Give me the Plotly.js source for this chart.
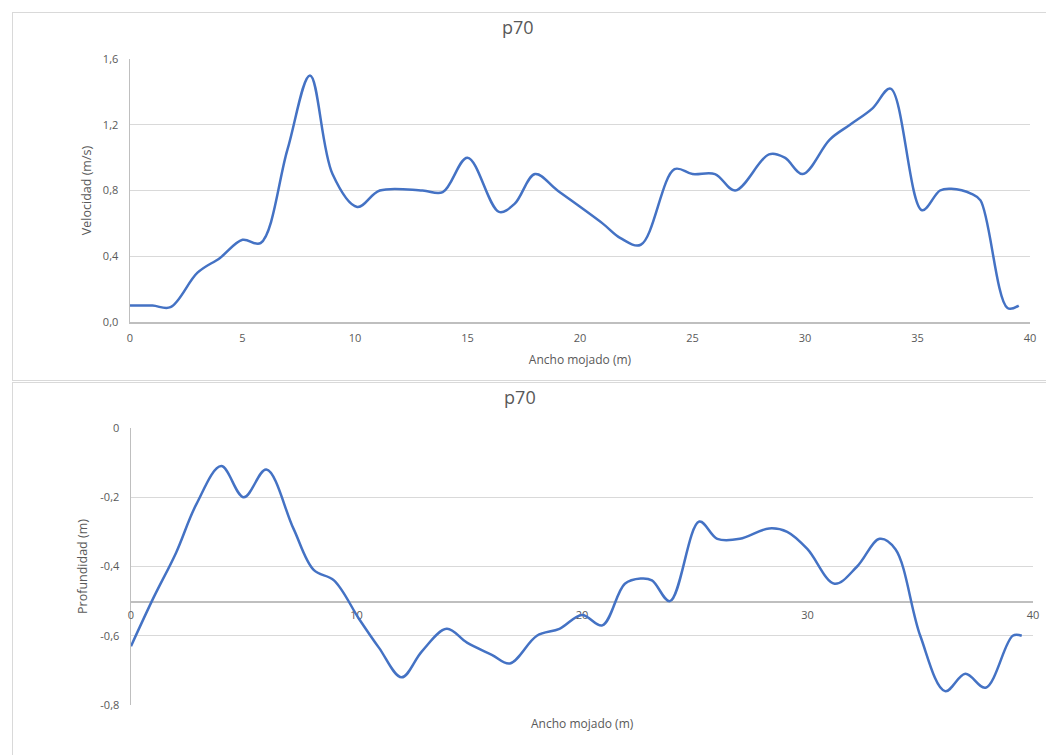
<!DOCTYPE html>
<html>
<head>
<meta charset="utf-8">
<script src="https://cdn.plot.ly/plotly-3.0.1.min.js"></script>
<style>
  html, body { margin: 0; padding: 0; background: #ffffff; overflow: hidden; width: 1046px; height: 755px; }
  .box { position: absolute; left: 12px; border: 1px solid #d9d9d9; background: #fff; }
</style>
</head>
<body>
<div class="box" style="top:12px;width:1043px;height:367px;"><div id="c1" style="width:1043px;height:367px;"></div></div>
<div class="box" style="top:382px;width:1043px;height:400px;"><div id="c2" style="width:1043px;height:400px;"></div></div>
<script>
// ---- Data: velocity profile (top chart)
const velX = [0, 1, 1.8, 3, 4, 5, 5.8, 7, 8, 9, 10.1, 11.1, 13, 13.9, 15, 16.4, 17.1, 18, 19, 21, 21.8, 22.7, 24.2, 25, 26, 26.9, 28.4, 29.1, 29.9, 31.1, 32, 33, 33.8, 35.2, 36, 36.5, 37.4, 37.8, 39, 39.5];
const velY = [0.1, 0.1, 0.09, 0.3, 0.39, 0.5, 0.48, 1.05, 1.5, 0.9, 0.7, 0.8, 0.8, 0.79, 1.0, 0.67, 0.72, 0.9, 0.8, 0.6, 0.51, 0.47, 0.93, 0.9, 0.9, 0.8, 1.02, 1.0, 0.9, 1.11, 1.2, 1.3, 1.42, 0.68, 0.8, 0.81, 0.78, 0.74, 0.085, 0.1];

// ---- Data: depth profile (bottom chart)
const depX = [0, 1, 2, 2.9, 4, 5, 6, 7.2, 8.1, 9, 10.1, 11, 12, 12.9, 14, 14.9, 16, 16.8, 18, 19, 20, 20.9, 21.9, 22.6, 23.1, 23.9, 25.2, 26, 27, 28.3, 29.1, 30, 31.2, 32.2, 33.2, 33.9, 35, 36.1, 37, 37.9, 39.1, 39.5];
const depY = [-0.63, -0.49, -0.36, -0.22, -0.11, -0.2, -0.12, -0.29, -0.41, -0.44, -0.55, -0.635, -0.72, -0.645, -0.58, -0.62, -0.655, -0.68, -0.6, -0.58, -0.54, -0.57, -0.45, -0.435, -0.44, -0.5, -0.27, -0.32, -0.32, -0.29, -0.3, -0.35, -0.45, -0.4, -0.32, -0.35, -0.6, -0.76, -0.71, -0.75, -0.6, -0.6];

// ---- Tick labels
const velTickVals = [0, 0.4, 0.8, 1.2, 1.6];
const velTickText = ['0,0', '0,4', '0,8', '1,2', '1,6'];
const depTickVals = [0, -0.2, -0.4, -0.6, -0.8];
const depTickText = ['0', '-0,2', '-0,4', '-0,6', '-0,8'];

// ---- Text
const chartTitle = 'p70';
const xTitle = 'Ancho mojado (m)';
const velTitle = 'Velocidad (m/s)';
const depTitle = 'Profundidad (m)';

const FONT = '"Open Sans", "Noto Sans", sans-serif';
const GRAY = '#595959';
const GRID = '#d9d9d9';
const AXIS = '#bfbfbf';
const BLUE = '#4472C4';

const cfg = {displayModeBar: false, staticPlot: true};

// Top chart
Plotly.newPlot('c1', [{
  x: velX, y: velY, type: 'scatter', mode: 'lines',
  line: {color: BLUE, width: 2.5, shape: 'spline', smoothing: 1},
  hoverinfo: 'skip'
}], {
  width: 1043, height: 367,
  margin: {l: 117, r: 26, t: 46, b: 58},
  paper_bgcolor: '#ffffff', plot_bgcolor: '#ffffff',
  showlegend: false,
  font: {family: FONT, color: GRAY, size: 11},
  title: {text: chartTitle, font: {family: FONT, size: 18, color: GRAY},
          xref: 'container', x: 0.484, xanchor: 'center',
          yref: 'container', y: 1 - 15/367, yanchor: 'middle'},
  xaxis: {range: [0, 40], tickvals: [0,5,10,15,20,25,30,35,40], showgrid: false, zeroline: false,
          showline: true, linecolor: AXIS, linewidth: 1.5, ticks: 'outside', ticklen: 5, tickcolor: 'rgba(0,0,0,0)',
          tickfont: {size: 11, color: GRAY}, layer: 'below traces',
          title: {text: xTitle, font: {size: 12, color: GRAY}, standoff: 12}},
  yaxis: {range: [0, 1.6], tickvals: velTickVals, ticktext: velTickText, showgrid: true, gridcolor: GRID, gridwidth: 1,
          zeroline: false, showline: true, linecolor: AXIS, linewidth: 1.5, ticks: 'outside', ticklen: 8, tickcolor: 'rgba(0,0,0,0)',
          tickfont: {size: 11, color: GRAY}, layer: 'below traces',
          title: {text: velTitle, font: {size: 12.5, color: GRAY}, standoff: 8}}
}, cfg);

// Bottom chart: x axis crosses at y = -0.5
const yMin = -0.8, yMax = 0, cross = -0.5;
const crossPos = (cross - yMin) / (yMax - yMin);
Plotly.newPlot('c2', [{
  x: depX, y: depY, type: 'scatter', mode: 'lines',
  line: {color: BLUE, width: 2.5, shape: 'spline', smoothing: 1},
  hoverinfo: 'skip'
}], {
  width: 1043, height: 400,
  margin: {l: 118, r: 23, t: 45, b: 78},
  paper_bgcolor: '#ffffff', plot_bgcolor: '#ffffff',
  showlegend: false,
  font: {family: FONT, color: GRAY, size: 11},
  title: {text: chartTitle, font: {family: FONT, size: 18, color: GRAY},
          xref: 'container', x: 0.486, xanchor: 'center',
          yref: 'container', y: 1 - 15/400, yanchor: 'middle'},
  xaxis: {range: [0, 40], tickvals: [0,10,20,30,40], showgrid: false, zeroline: false,
          anchor: 'free', position: crossPos,
          showline: true, linecolor: AXIS, linewidth: 1.5, ticks: 'outside', ticklen: 3, tickcolor: 'rgba(0,0,0,0)',
          tickfont: {size: 11, color: GRAY}, layer: 'below traces'},
  yaxis: {range: [yMin, yMax], tickvals: depTickVals, ticktext: depTickText, showgrid: true, gridcolor: GRID, gridwidth: 1,
          zeroline: false, showline: true, linecolor: AXIS, linewidth: 1.5, ticks: 'outside', ticklen: 8, tickcolor: 'rgba(0,0,0,0)',
          tickfont: {size: 11, color: GRAY}, layer: 'below traces',
          title: {text: depTitle, font: {size: 12.5, color: GRAY}, standoff: 10}},
  annotations: [{text: xTitle, xref: 'paper', yref: 'paper', x: 0.5, y: 0, yshift: -18,
                 xanchor: 'center', yanchor: 'middle', showarrow: false, font: {size: 12, color: GRAY}}]
}, cfg);
</script>
</body>
</html>
